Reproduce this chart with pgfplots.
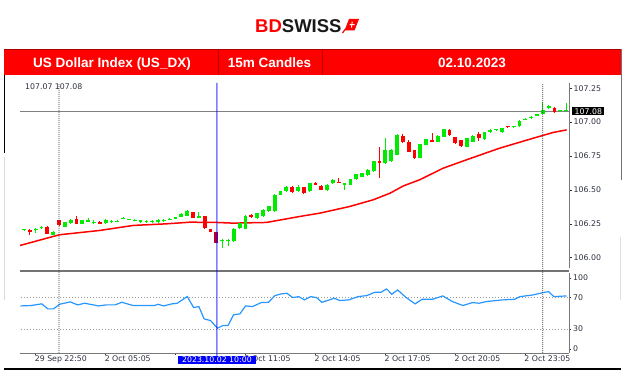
\documentclass[border=0pt]{standalone}
\usepackage{pgfplots}
\pgfplotsset{compat=1.18}
\usepackage{pgfplotstable}
\usepackage{fontspec}
\setmainfont{Liberation Sans}
\newfontfamily\tickfont{DejaVu Sans}
\definecolor{gc}{RGB}{0,235,0}
\definecolor{rc}{RGB}{255,0,0}
\definecolor{hc}{RGB}{185,0,45}
\definecolor{lab}{RGB}{45,50,65}
\definecolor{rsic}{RGB}{40,150,255}
\definecolor{hdr}{RGB}{255,0,0}
\definecolor{hdrd}{RGB}{175,0,0}
\definecolor{axg}{RGB}{120,120,120}
\newcommand{\tkf}{\tickfont\fontsize{7.8}{9}\selectfont}

% bullish candles: index, open, high, low, close
\pgfplotstableread{
i O H L C
0 106.203 106.215 106.195 106.208
2 106.201 106.218 106.185 106.211
3 106.218 106.235 106.212 106.230
5 106.169 106.197 106.165 106.193
7 106.230 106.263 106.228 106.260
8 106.255 106.285 106.252 106.280
10 106.250 106.278 106.248 106.275
11 106.267 106.290 106.262 106.280
12 106.255 106.275 106.245 106.267
14 106.255 106.285 106.252 106.275
15 106.260 106.280 106.258 106.269
16 106.264 106.280 106.260 106.271
17 106.288 106.298 106.285 106.295
18 106.278 106.286 106.276 106.284
19 106.272 106.282 106.268 106.279
20 106.260 106.278 106.258 106.275
21 106.260 106.276 106.258 106.273
22 106.261 106.276 106.259 106.273
23 106.260 106.283 106.258 106.280
24 106.270 106.283 106.266 106.277
25 106.281 106.292 106.278 106.289
26 106.285 106.303 106.283 106.299
27 106.299 106.327 106.297 106.324
28 106.309 106.350 106.306 106.346
30 106.292 106.334 106.290 106.304
34 106.120 106.135 106.071 106.132
35 106.120 106.140 106.083 106.132
36 106.120 106.216 106.118 106.213
37 106.218 106.258 106.214 106.255
38 106.211 106.312 106.208 106.309
40 106.292 106.333 106.288 106.329
41 106.304 106.360 106.300 106.353
42 106.341 106.382 106.338 106.378
43 106.341 106.468 106.338 106.464
44 106.464 106.493 106.460 106.489
45 106.489 106.530 106.486 106.525
47 106.489 106.535 106.485 106.525
49 106.489 106.553 106.486 106.550
52 106.501 106.541 106.489 106.538
53 106.550 106.578 106.547 106.575
55 106.538 106.553 106.500 106.550
56 106.538 106.583 106.535 106.579
57 106.579 106.620 106.575 106.616
58 106.599 106.628 106.596 106.624
59 106.611 106.652 106.600 106.648
60 106.636 106.715 106.633 106.710
62 106.697 106.882 106.690 106.791
63 106.710 106.800 106.705 106.796
64 106.759 106.915 106.755 106.906
68 106.739 106.842 106.735 106.838
69 106.833 106.878 106.830 106.874
71 106.857 106.903 106.853 106.899
72 106.894 106.952 106.890 106.948
76 106.820 106.886 106.816 106.882
77 106.857 106.903 106.853 106.899
79 106.874 106.928 106.870 106.924
80 106.924 106.947 106.920 106.943
81 106.939 106.952 106.935 106.946
82 106.924 106.960 106.920 106.956
84 106.964 106.975 106.960 106.971
85 106.968 107.016 106.964 107.012
86 107.018 107.030 107.014 107.025
87 107.030 107.042 107.026 107.037
88 107.049 107.062 107.046 107.057
89 107.061 107.152 107.058 107.091
90 107.103 107.124 107.100 107.120
92 107.079 107.090 107.075 107.086
93 107.083 107.140 107.080 107.090
}\greenc

% bearish candles
\pgfplotstableread{
i O H L C
1 106.206 106.210 106.169 106.193
4 106.230 106.235 106.172 106.176
6 106.275 106.280 106.235 106.238
9 106.285 106.309 106.247 106.250
13 106.267 106.272 106.245 106.250
29 106.334 106.338 106.290 106.292
31 106.304 106.308 106.215 106.218
32 106.211 106.214 106.190 106.193
39 106.316 106.325 106.296 106.299
46 106.525 106.530 106.478 106.481
48 106.520 106.525 106.470 106.476
50 106.550 106.555 106.535 106.538
51 106.530 106.533 106.498 106.501
54 106.562 106.587 106.552 106.555
61 106.715 106.820 106.587 106.702
65 106.899 106.910 106.845 106.850
66 106.857 106.870 106.780 106.783
67 106.791 106.795 106.730 106.734
70 106.869 106.920 106.853 106.857
73 106.943 106.948 106.900 106.906
74 106.889 106.893 106.840 106.845
75 106.865 106.868 106.820 106.825
78 106.914 106.930 106.860 106.882
83 106.971 106.975 106.958 106.964
91 107.108 107.110 107.070 107.074
}\redc

% selected candle (2023.10.02 10:00)
\pgfplotstableread{
i O H L C
33 106.189 106.192 106.105 106.108
}\selc

\begin{document}
\begin{tikzpicture}[x=1pt,y=1pt]
\fill[white] (0,0) rectangle (624,371);

% ---------- logo and header (pixel coordinates, y downward) ----------
\begin{scope}[yshift=371pt, yscale=-1]
  \node[anchor=base west, inner sep=0pt, font=\bfseries\fontsize{18.5}{20}\selectfont] at (255,33) {\textcolor{red}{BD}\textcolor[RGB]{25,25,25}{SWISS}};
  \fill[red] (344.5,30.5) -- (349,19) -- (359,19) -- (354.5,30.5) -- cycle;
  \draw[red, line width=1.2pt] (345.5,29) -- (342.5,33);
  \draw[white, line width=0.9pt] (349.5,24.7) -- (354.5,24.7) (352.2,21.7) -- (351.5,27.7);
  \fill[hdr] (4,49) rectangle (622,75);
  \draw[hdrd, line width=0.6pt] (4,49) -- (622,49);
  \draw[hdrd, line width=0.7pt] (218,49) -- (218,75) (322,49) -- (322,75);
  \node[anchor=base, inner sep=0pt, text=white, font=\bfseries\fontsize{13.5}{15}\selectfont] at (112,68) {US Dollar Index (US\_DX)};
  \node[anchor=base, inner sep=0pt, text=white, font=\bfseries\fontsize{13.5}{15}\selectfont] at (269.5,68) {15m Candles};
  \node[anchor=base, inner sep=0pt, text=white, font=\bfseries\fontsize{13.5}{15}\selectfont] at (472,68) {02.10.2023};
  \node[anchor=base west, inner sep=0pt, text=lab, font=\tkf] at (25,90) {107.07 107.08};
  % frame
  \draw[black, line width=1pt] (4.5,75) -- (4.5,153);
  \draw[black!15, line width=0.8pt] (4.5,157) -- (4.5,300);
  \draw[black!55, line width=1pt] (621.5,49) -- (621.5,180);
  \draw[black!12, line width=0.8pt] (620,237) -- (620,300);
  \draw[black, line width=1.5pt] (4,369) -- (621,369);
\end{scope}

% ---------- price panel ----------
\begin{axis}[
  at={(20pt,103pt)}, anchor=south west, scale only axis,
  width=549pt, height=188pt,
  xmin=-0.686, xmax=93.5, ymin=105.924, ymax=107.311,
  axis line style={draw=none},
  xtick=\empty,
  ytick={106,106.25,106.5,106.75,107,107.25},
  yticklabels={106.00,106.25,106.50,106.75,107.00,107.25},
  ytick pos=right, yticklabel pos=right,
  tick align=outside, major tick length=2.5pt,
  tick style={draw=lab, line width=0.6pt},
  yticklabel style={font=\tkf, text=lab, anchor=west, inner sep=0pt, xshift=2pt},
]
\addplot[draw=gray, line width=0.8pt] coordinates {(-1,107.08) (94,107.08)};
\addplot[rc, line width=1.5pt] coordinates {
(-0.7,106.090) (6.06,106.169) (13.0,106.201) (18.75,106.238) (24.5,106.250)
(28.5,106.262) (33.05,106.260) (35.9,106.255) (41.6,106.260) (47.3,106.304)
(50.8,106.329) (55.9,106.378) (59.9,106.427) (62.8,106.476) (65.1,106.530)
(67.9,106.575) (71.9,106.660) (75.9,106.722) (81.6,106.808) (87.4,106.882)
(90.8,106.924) (93.1,106.943)};
\addplot[gc, line width=0.9pt, mark=none, quiver={u=0, v=\thisrow{H}-\thisrow{L}}] table[x=i, y=L] {\greenc};
\addplot[gc, line width=3.8pt, mark=none, quiver={u=0, v=\thisrow{C}-\thisrow{O}}] table[x=i, y=O] {\greenc};
\addplot[rc, line width=0.9pt, mark=none, quiver={u=0, v=\thisrow{H}-\thisrow{L}}] table[x=i, y=L] {\redc};
\addplot[rc, line width=3.8pt, mark=none, quiver={u=0, v=\thisrow{C}-\thisrow{O}}] table[x=i, y=O] {\redc};
\addplot[hc, line width=0.9pt, mark=none, quiver={u=0, v=\thisrow{H}-\thisrow{L}}] table[x=i, y=L] {\selc};
\addplot[hc, line width=3.8pt, mark=none, quiver={u=0, v=\thisrow{C}-\thisrow{O}}] table[x=i, y=O] {\selc};
\coordinate (d1t) at (axis cs:6,107.28);
\coordinate (d2t) at (axis cs:89,107.28);
\coordinate (blt) at (axis cs:33.1,107.29);
\coordinate (lastp) at (axis cs:93.5,107.08);
\end{axis}

% ---------- RSI panel ----------
\begin{axis}[
  at={(20pt,18pt)}, anchor=south west, scale only axis,
  width=549pt, height=79.5pt,
  xmin=-0.686, xmax=93.5, ymin=0, ymax=100,
  axis line style={draw=none},
  xtick={2,14,26,38,50,62,74,86},
  xticklabels={29 Sep 22:50,2 Oct 05:05,{},2 Oct 11:05,2 Oct 14:05,2 Oct 17:05,2 Oct 20:05,2 Oct 23:05},
  ytick={5.2,30,70,94.5}, yticklabels={0,30,70,100},
  xtick pos=left, xticklabel pos=left,
  ytick pos=right, yticklabel pos=right,
  tick align=outside, major tick length=2pt,
  tick style={draw=lab, line width=0.6pt},
  xticklabel style={font=\tkf, text=lab, anchor=north west, inner sep=0pt, xshift=-1pt, yshift=-1pt},
  yticklabel style={font=\tkf, text=lab, anchor=west, inner sep=0pt, xshift=2pt},
]
\draw[black!40, line width=0.6pt, dash pattern=on 1pt off 2pt] (axis cs:-1,70) -- (axis cs:94,70);
\draw[black!40, line width=0.6pt, dash pattern=on 1pt off 2pt] (axis cs:-1,30) -- (axis cs:94,30);
\addplot[rsic, line width=1.2pt] coordinates {
(-0.62,59.2) (1.22,59.7) (3.05,61.8) (4.1,55.5) (5.08,55.5) (6.1,61.3) (7.96,64.3)
(9.2,60.5) (10.4,62.6) (12.8,59.2) (14.1,60.5) (15.6,60.5) (16.8,63.8) (18.7,59.7)
(22.4,59.7) (23.0,61.3) (23.9,59.2) (25.4,61.8) (26.3,62.6) (28.0,71) (29.1,57.2)
(30.0,58.4) (30.9,42.9) (32.0,40.8) (33.2,31.2) (34.1,34.5) (35.0,34.5) (35.95,48)
(37.05,49.2) (38.0,59.2) (39.2,58.4) (40.7,63.4) (41.95,63.8) (43.05,72.2)
(44.1,74.3) (45.1,75.1) (46.1,69.7) (47.15,70.9) (48.1,66.8) (49.2,70.9) (50.2,69.7)
(51.1,63.8) (52.4,66.8) (53.2,68.9) (54.2,66) (55.7,66.8) (57.3,70.9) (58.8,72.2)
(60.2,76.4) (61.25,76.4) (62.2,80.6) (63.1,73.9) (64.1,79.3) (65.5,70.1) (67.1,61.8)
(68.3,67.6) (70.1,67.6) (71.85,71.8) (73.5,64.7) (75.3,59.7) (76.9,63.4) (78.1,62.6)
(79.3,64.7) (82.1,66.8) (84.2,67.6) (85.1,70.9) (87.3,73) (89.0,75.9) (90.0,77.2)
(90.9,70.9) (93.1,71.8)};
\coordinate (d1b) at (axis cs:6,0);
\coordinate (d2b) at (axis cs:89,0);
\coordinate (blb) at (axis cs:33.1,0);
\end{axis}

% ---------- axis lines, separators, cursor lines ----------
\draw[axg, line width=0.8pt] (569,288) -- (569,103);
\draw[axg, line width=0.8pt] (569,98) -- (569,18);
\draw[axg, line width=0.8pt] (20,18) -- (569,18);
\draw[black!55, line width=2pt] (20,99.5) -- (569.4,99.5);
\draw[black!75, line width=0.8pt, dash pattern=on 1pt off 1pt] (d1t) -- (d1b);
\draw[black!75, line width=0.8pt, dash pattern=on 1pt off 1pt] (d2t) -- (d2b);
\draw[blue, opacity=0.5, line width=1.4pt] (blt) -- ([yshift=-3pt]blb);
\node[fill=blue, text=white, font=\tkf, inner xsep=4.5pt, inner ysep=1pt, anchor=north] at ([yshift=-3pt]blb) {2023.10.02 10:00};
\node[fill=black, text=white, font=\tkf, inner xsep=2.5pt, inner ysep=1pt, anchor=west] at ([xshift=3pt]lastp) {107.08};
\end{tikzpicture}
\end{document}
